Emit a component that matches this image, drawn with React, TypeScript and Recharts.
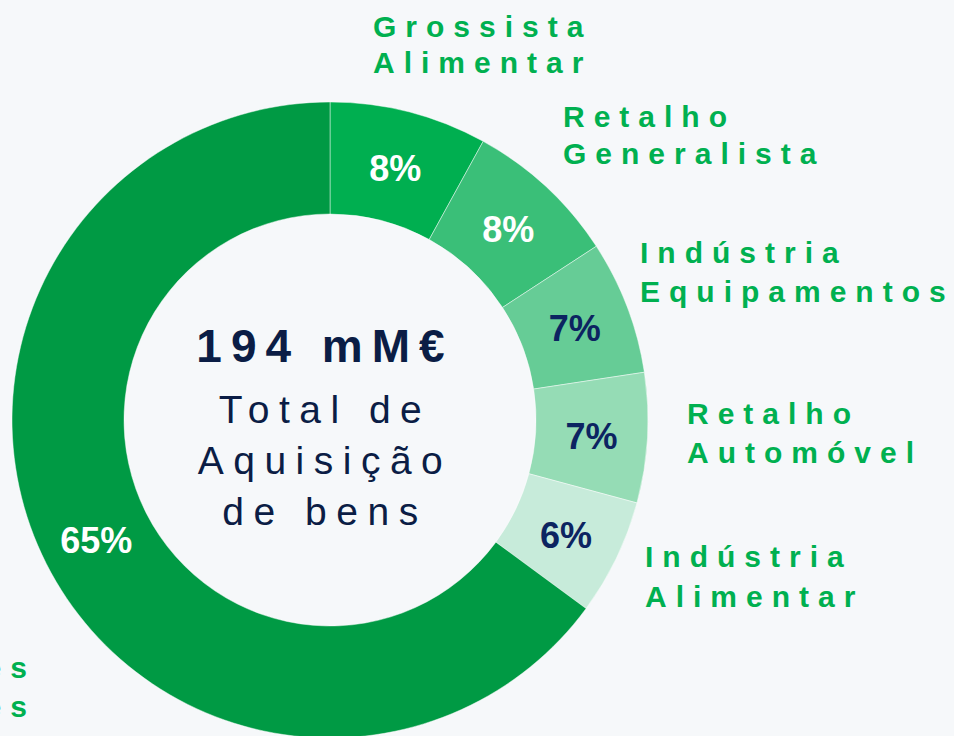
import React from 'react';
import { PieChart, Pie, Cell, Label } from 'recharts';

// ---- data ----
const categoryLines: string[][] = [
  ['Grossista', 'Alimentar'],
  ['Retalho', 'Generalista'],
  ['Indústria', 'Equipamentos'],
  ['Retalho', 'Automóvel'],
  ['Indústria', 'Alimentar'],
  ['Restantes', 'Clientes'],
];
const shares: number[] = [8.0, 7.8, 6.8, 6.6, 5.9, 64.9];
const shareLabels: string[] = ['8%', '8%', '7%', '7%', '6%', '65%'];
const totalTitle = '194 mM€';
const totalSubtitle: string[] = ['Total de', 'Aquisição', 'de bens'];

// ---- styles / layout ----
const sliceColors = ['#00AF50', '#3ABF78', '#66CC96', '#95DCB5', '#C7EBDA', '#009A44'];
const pctColors = ['#FFFFFF', '#FFFFFF', '#0C2461', '#0C2461', '#0C2461', '#FFFFFF'];
const catLayout = [
  { x: 373, y1: 37, y2: 73, anchor: 'start' },
  { x: 563, y1: 127, y2: 164, anchor: 'start' },
  { x: 640, y1: 263, y2: 302, anchor: 'start' },
  { x: 687, y1: 424, y2: 463, anchor: 'start' },
  { x: 645, y1: 567, y2: 607, anchor: 'start' },
  { x: 36, y1: 678, y2: 717, anchor: 'end' },
];
const FONT = '"Liberation Sans", Arial, Helvetica, sans-serif';
const BG = '#F6F8FA';
const GREEN = '#00B050';
const NAVY = '#0B1D45';

const tableData = shares.map((v, i) => ({
  name: categoryLines[i].join(' '),
  value: v,
  label: shareLabels[i],
}));

const RAD = Math.PI / 180;

const renderLabel = (props: any) => {
  const { cx, cy, midAngle, innerRadius, outerRadius, index } = props;
  const r = (innerRadius + outerRadius) / 2;
  const x = cx + r * Math.cos(-midAngle * RAD);
  const y = cy + r * Math.sin(-midAngle * RAD) + 2;
  const lay = catLayout[index];
  return (
    <g key={`lbl-${index}`}>
      <text
        x={x}
        y={y}
        textAnchor="middle"
        dominantBaseline="central"
        fill={pctColors[index]}
        fontFamily={FONT}
        fontWeight={700}
        fontSize={36}
      >
        {shareLabels[index]}
      </text>
      <text
        textAnchor={lay.anchor as any}
        fill={GREEN}
        fontFamily={FONT}
        fontWeight={700}
        fontSize={30}
        style={{ letterSpacing: '9px' }}
      >
        <tspan x={lay.x} y={lay.y1}>{categoryLines[index][0]}</tspan>
        <tspan x={lay.x} y={lay.y2}>{categoryLines[index][1]}</tspan>
      </text>
    </g>
  );
};

const CenterContent = (props: any) => {
  const vb = props.viewBox || {};
  const cx = vb.cx ?? 330;
  const cy = vb.cy ?? 420;
  const x = cx - 5;
  return (
    <g>
      <text
        x={x}
        y={cy - 58}
        textAnchor="middle"
        fill={NAVY}
        fontFamily={FONT}
        fontWeight={700}
        fontSize={46}
        style={{ letterSpacing: '9px' }}
      >
        {totalTitle}
      </text>
      {totalSubtitle.map((t, i) => (
        <text
          key={t}
          x={x}
          y={cy + 3 + i * 51}
          textAnchor="middle"
          fill={NAVY}
          fontFamily={FONT}
          fontWeight={400}
          fontSize={39}
          style={{ letterSpacing: '9.5px' }}
        >
          {t}
        </text>
      ))}
    </g>
  );
};

export default function App() {
  return (
    <div style={{ position: 'absolute', left: 0, top: 0, width: 954, height: 736, background: BG, overflow: 'hidden' }}>
      <PieChart width={954} height={736} margin={{ top: 0, right: 0, bottom: 0, left: 0 }}>
        <Pie
          data={tableData}
          dataKey="value"
          nameKey="name"
          cx={330}
          cy={420}
          innerRadius={206}
          outerRadius={318}
          startAngle={90}
          endAngle={-270}
          stroke="rgba(255,255,255,0.45)"
          strokeWidth={1}
          label={renderLabel}
          labelLine={false}
          isAnimationActive={false}
        >
          {tableData.map((d, i) => (
            <Cell key={d.name} fill={sliceColors[i]} />
          ))}
          <Label position="center" content={<CenterContent />} />
        </Pie>
      </PieChart>
    </div>
  );
}
